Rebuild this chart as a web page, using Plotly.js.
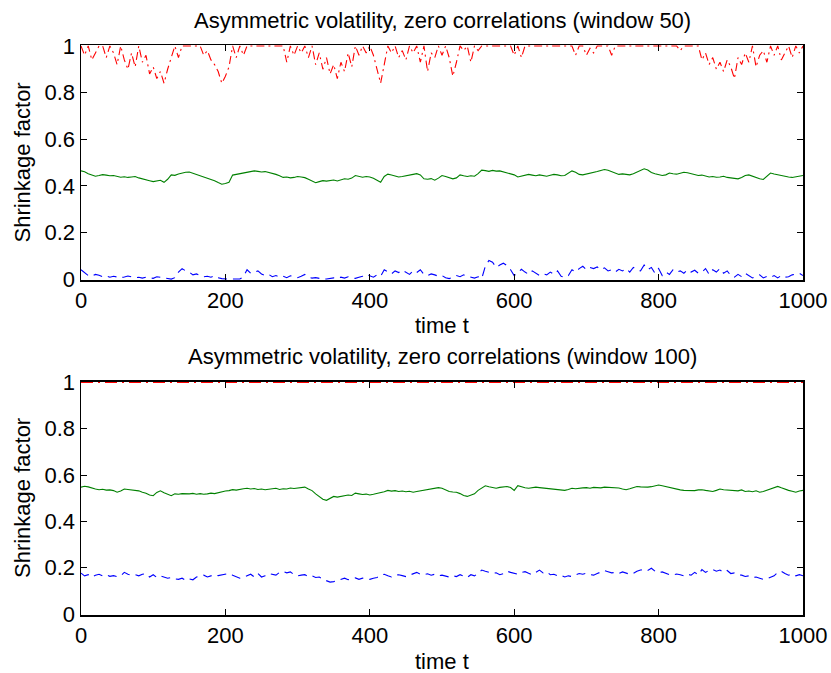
<!DOCTYPE html>
<html><head><meta charset="utf-8">
<script src="https://cdn.plot.ly/plotly-3.0.1.min.js"></script>
<style>html,body{margin:0;padding:0;background:#fff}#chart{width:831px;height:673px}</style>
</head><body><div id="chart"></div>
<script>
// time index (step 5)
const T = Array.from({length: 201}, (_, i) => i * 5);

// Top panel (window 50)
const R1 = [
1,0.96,1,0.94,0.97,1,1,0.95,1,0.97,
0.92,1,0.94,0.90,0.97,0.91,1,0.93,0.96,0.88,
0.91,0.86,0.89,0.84,0.90,0.95,1,0.95,1,1,
1,1,1,1,0.96,0.98,0.94,0.92,0.89,0.84,
0.87,0.91,1,0.95,1,0.96,1,1,1,1,
1,1,1,1,1,1,1,0.93,1,0.96,
1,0.97,1,0.95,1,0.92,0.97,0.90,0.95,0.88,
0.92,0.86,0.93,0.89,0.97,0.91,1,0.96,1,0.97,
1,0.96,0.90,0.84,0.92,1,0.97,1,0.95,0.98,
0.94,1,0.97,1,0.93,1,0.89,0.97,0.95,1,
0.96,1,0.95,0.87,0.93,1,0.98,1,0.93,1,
0.98,1,1,1,1,1,1,1,1,1,
0.96,1,0.95,1,1,1,1,1,1,1,
1,1,1,1,1,1,1,0.96,1,1,
0.96,0.99,0.97,1,1,1,1,0.96,1,1,
1,1,1,1,1,1,1,1,1,1,
1,1,1,1,1,1,0.98,1,1,1,
1,1,0.94,0.97,0.92,0.95,0.90,0.93,0.89,0.94,
0.91,0.86,0.95,0.92,0.97,0.93,1,0.91,0.96,0.98,
0.93,1,0.96,1,0.94,0.97,1,0.95,1,0.97,
1];
const G1 = [
0.464,0.460,0.452,0.445,0.441,0.444,0.448,0.446,0.443,0.444,
0.440,0.437,0.439,0.436,0.438,0.440,0.434,0.431,0.428,0.422,
0.418,0.421,0.424,0.415,0.428,0.447,0.445,0.451,0.455,0.458,
0.459,0.454,0.449,0.441,0.438,0.434,0.427,0.422,0.414,0.407,
0.410,0.415,0.446,0.449,0.452,0.455,0.458,0.461,0.464,0.462,
0.459,0.461,0.458,0.455,0.449,0.443,0.436,0.438,0.434,0.436,
0.440,0.438,0.435,0.428,0.419,0.413,0.418,0.422,0.420,0.423,
0.425,0.421,0.427,0.430,0.428,0.433,0.444,0.441,0.437,0.440,
0.438,0.432,0.425,0.415,0.440,0.450,0.446,0.442,0.438,0.440,
0.444,0.447,0.449,0.452,0.447,0.430,0.428,0.431,0.424,0.433,
0.444,0.440,0.436,0.430,0.434,0.447,0.443,0.440,0.443,0.441,
0.452,0.467,0.465,0.462,0.466,0.463,0.464,0.460,0.456,0.452,
0.447,0.438,0.442,0.446,0.449,0.446,0.443,0.447,0.444,0.441,
0.445,0.449,0.447,0.443,0.444,0.453,0.464,0.458,0.449,0.447,
0.450,0.454,0.457,0.461,0.466,0.470,0.467,0.462,0.455,0.449,
0.451,0.448,0.447,0.452,0.459,0.466,0.473,0.468,0.457,0.452,
0.448,0.444,0.447,0.455,0.452,0.450,0.454,0.458,0.456,0.452,
0.447,0.444,0.446,0.442,0.438,0.440,0.437,0.438,0.441,0.436,
0.433,0.431,0.430,0.436,0.444,0.447,0.441,0.436,0.430,0.427,
0.440,0.455,0.451,0.447,0.443,0.441,0.438,0.436,0.439,0.442,
0.444];
const B1 = [
0.040,0.028,0.015,0.012,0.020,0.016,0.010,0.014,0.008,0.012,
0.010,0.006,0.009,0.013,0.010,0.006,0.008,0.004,0.008,0.005,
0.003,0.010,0.008,0.004,0.002,0.000,0.006,0.030,0.045,0.035,
0.030,0.018,0.022,0.015,0.010,0.012,0.008,0.014,0.006,0.002,
0.000,0.000,0.000,0.000,0.000,0.010,0.040,0.025,0.030,0.035,
0.022,0.015,0.020,0.010,0.015,0.008,0.012,0.006,0.014,0.010,
0.006,0.012,0.020,0.008,0.004,0.006,0.002,0.000,0.000,0.003,
0.005,0.002,0.008,0.004,0.010,0.006,0.003,0.008,0.012,0.020,
0.015,0.008,0.018,0.012,0.040,0.030,0.022,0.035,0.028,0.038,
0.030,0.020,0.036,0.028,0.040,0.020,0.015,0.022,0.018,0.012,
0.015,0.006,0.002,0.008,0.015,0.010,0.018,0.012,0.008,0.004,
0.010,0.002,0.055,0.080,0.072,0.050,0.060,0.068,0.058,0.040,
0.015,0.030,0.042,0.030,0.020,0.035,0.025,0.015,0.022,0.018,
0.030,0.020,0.035,0.012,0.008,0.015,0.040,0.030,0.045,0.055,
0.040,0.050,0.045,0.052,0.040,0.048,0.035,0.040,0.030,0.042,
0.035,0.045,0.030,0.050,0.040,0.035,0.060,0.040,0.050,0.025,
0.045,0.015,0.030,0.020,0.040,0.030,0.035,0.025,0.040,0.030,
0.038,0.025,0.030,0.045,0.020,0.040,0.030,0.045,0.025,0.035,
0.015,0.008,0.020,0.010,0.025,0.015,0.005,0.012,0.018,0.005,
0.012,0.008,0.015,0.005,0.015,0.008,0.010,0.018,0.020,0.025,
0.015];

// Bottom panel (window 100)
const T2 = [0, 1000];
const R2 = [1, 1];
const G2 = [
0.548,0.552,0.549,0.543,0.540,0.537,0.539,0.535,0.536,0.533,
0.526,0.531,0.540,0.538,0.537,0.535,0.532,0.526,0.522,0.514,
0.511,0.525,0.532,0.524,0.516,0.511,0.519,0.517,0.520,0.518,
0.519,0.521,0.517,0.520,0.517,0.519,0.522,0.520,0.524,0.529,
0.531,0.533,0.537,0.535,0.539,0.541,0.543,0.540,0.542,0.538,
0.540,0.537,0.539,0.540,0.543,0.538,0.541,0.540,0.544,0.542,
0.545,0.547,0.548,0.540,0.533,0.519,0.508,0.496,0.491,0.500,
0.508,0.505,0.509,0.511,0.514,0.512,0.522,0.519,0.516,0.518,
0.514,0.517,0.520,0.524,0.528,0.534,0.531,0.533,0.529,0.531,
0.528,0.530,0.526,0.529,0.532,0.536,0.538,0.540,0.544,0.546,
0.543,0.537,0.529,0.527,0.526,0.520,0.512,0.508,0.515,0.519,
0.534,0.546,0.554,0.550,0.546,0.543,0.547,0.549,0.551,0.546,
0.534,0.554,0.549,0.545,0.543,0.546,0.548,0.546,0.544,0.543,
0.541,0.538,0.536,0.534,0.534,0.538,0.543,0.541,0.544,0.545,
0.546,0.543,0.547,0.546,0.545,0.548,0.547,0.549,0.546,0.544,
0.540,0.537,0.541,0.546,0.551,0.549,0.547,0.548,0.550,0.553,
0.557,0.554,0.550,0.546,0.543,0.540,0.536,0.534,0.533,0.531,
0.533,0.536,0.537,0.534,0.531,0.529,0.534,0.540,0.537,0.535,
0.533,0.534,0.532,0.536,0.529,0.531,0.528,0.532,0.526,0.529,
0.535,0.540,0.546,0.551,0.545,0.538,0.534,0.530,0.526,0.531,
0.534];
const B2 = [
0.177,0.165,0.170,0.160,0.168,0.172,0.165,0.170,0.163,0.166,
0.162,0.165,0.180,0.172,0.168,0.170,0.165,0.172,0.175,0.160,
0.170,0.158,0.165,0.160,0.155,0.158,0.152,0.150,0.155,0.145,
0.152,0.148,0.160,0.165,0.168,0.160,0.165,0.170,0.166,0.168,
0.172,0.175,0.168,0.160,0.155,0.158,0.165,0.172,0.160,0.175,
0.160,0.165,0.175,0.172,0.168,0.180,0.184,0.178,0.182,0.170,
0.165,0.168,0.170,0.162,0.165,0.158,0.160,0.150,0.145,0.138,
0.140,0.146,0.150,0.155,0.148,0.152,0.156,0.150,0.155,0.152,
0.150,0.155,0.158,0.168,0.172,0.165,0.160,0.168,0.170,0.166,
0.162,0.168,0.175,0.180,0.172,0.170,0.174,0.168,0.172,0.165,
0.168,0.163,0.160,0.165,0.162,0.170,0.163,0.158,0.170,0.165,
0.175,0.190,0.185,0.180,0.176,0.178,0.170,0.174,0.185,0.180,
0.175,0.172,0.180,0.183,0.176,0.170,0.180,0.190,0.178,0.183,
0.170,0.172,0.165,0.168,0.160,0.165,0.162,0.168,0.175,0.172,
0.176,0.170,0.168,0.175,0.180,0.188,0.183,0.178,0.180,0.175,
0.182,0.178,0.172,0.176,0.185,0.190,0.192,0.188,0.198,0.185,
0.178,0.182,0.175,0.170,0.168,0.173,0.170,0.165,0.172,0.168,
0.180,0.170,0.192,0.180,0.188,0.192,0.185,0.190,0.180,0.188,
0.175,0.178,0.170,0.168,0.162,0.165,0.158,0.160,0.155,0.150,
0.152,0.160,0.165,0.180,0.185,0.175,0.168,0.172,0.165,0.170,
0.165];

const XTICKS = [0, 200, 400, 600, 800, 1000];
const YTICKS = [0, 0.2, 0.4, 0.6, 0.8, 1];
const YLABELS = ['0', '0.2', '0.4', '0.6', '0.8', '1'];
const TITLES = ['Asymmetric volatility, zero correlations (window 50)',
                'Asymmetric volatility, zero correlations (window 100)'];
const XTITLE = 'time t';
const YTITLE = 'Shrinkage factor';

const FONT = '"Liberation Sans", Arial, Helvetica, sans-serif';
const FS = 22;
const RED = '#ff0000', GREEN = '#008000', BLUE = '#0000ff';
const LW = 1.1;

function line(x, y, color, dash, xa, ya) {
  return {x: x, y: y, type: 'scatter', mode: 'lines', xaxis: xa, yaxis: ya,
          line: {color: color, width: LW, dash: dash}, hoverinfo: 'skip', showlegend: false};
}

const data = [
  line(T, R1, RED, '8px,4px,2px,4px', 'x', 'y'),
  line(T, G1, GREEN, 'solid', 'x', 'y'),
  line(T, B1, BLUE, '9px,6px', 'x', 'y'),
  line(T2, R2, RED, '12px,5px,2px,5px', 'x2', 'y2'),
  line(T, G2, GREEN, 'solid', 'x2', 'y2'),
  line(T, B2, BLUE, '9px,6px', 'x2', 'y2')
];

const common = {
  showline: true, linecolor: '#000', linewidth: 1.5, mirror: 'ticks',
  ticks: 'inside', ticklen: 6, tickwidth: 1, tickcolor: '#000',
  showgrid: false, zeroline: false, fixedrange: true,
  tickfont: {family: FONT, size: FS, color: '#000'}
};
const xd = [81/831, 803/831];
const yTop = [1 - 280/673, 1 - 45/673];
const yBot = [1 - 615/673, 1 - 381.5/673];
const YR = [-0.004, 1.004];

function ann(text, xpx, ypx, angle) {
  return {text: text, xref: 'paper', yref: 'paper', x: xpx/831, y: 1 - ypx/673,
          xanchor: 'center', yanchor: 'middle', textangle: angle || 0, showarrow: false,
          font: {family: FONT, size: FS, color: '#000'}};
}

const layout = {
  width: 831, height: 673, margin: {l: 0, r: 0, t: 0, b: 0},
  paper_bgcolor: '#fff', plot_bgcolor: '#fff', showlegend: false,
  font: {family: FONT, size: FS, color: '#000'},
  xaxis: Object.assign({}, common, {domain: xd, range: [0, 1000], anchor: 'y', tickvals: XTICKS}),
  yaxis: Object.assign({}, common, {domain: yTop, range: YR, anchor: 'x', tickvals: YTICKS, ticktext: YLABELS}),
  xaxis2: Object.assign({}, common, {domain: xd, range: [0, 1000], anchor: 'y2', tickvals: XTICKS}),
  yaxis2: Object.assign({}, common, {domain: yBot, range: YR, anchor: 'x2', tickvals: YTICKS, ticktext: YLABELS}),
  annotations: [
    ann(TITLES[0], 442, 20),
    ann(TITLES[1], 442, 356),
    ann(XTITLE, 442, 325),
    ann(XTITLE, 442, 661),
    ann(YTITLE, 22, 162.5, -90),
    ann(YTITLE, 22, 498, -90)
  ]
};

Plotly.newPlot('chart', data, layout, {staticPlot: true, displayModeBar: false});
</script>
</body></html>
